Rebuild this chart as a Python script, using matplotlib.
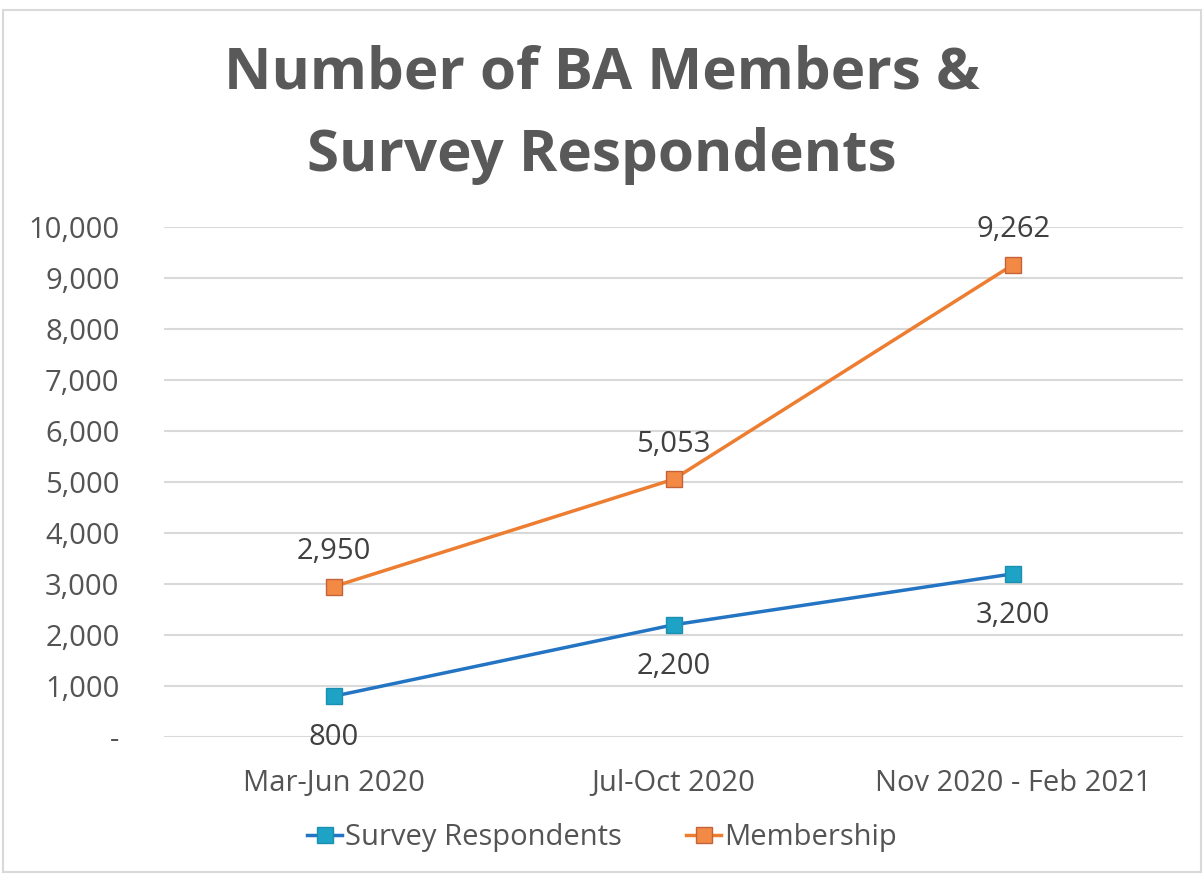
import matplotlib
matplotlib.use("Agg")
from matplotlib import pyplot as plt
from matplotlib.patches import Rectangle
from matplotlib.ticker import FuncFormatter

periods = ["Mar-Jun 2020", "Jul-Oct 2020", "Nov 2020 - Feb 2021"]
survey = [800, 2200, 3200]
membership = [2950, 5053, 9262]
yticks = list(range(0, 10001, 1000))

plt.rcParams['font.family'] = ['Open Sans', 'DejaVu Sans']

fig = plt.figure(figsize=(12.04, 8.75), dpi=100)
ax = fig.add_axes([164 / 1204, 1 - 737 / 875, (1183 - 164) / 1204, (737 - 227) / 875])

x = list(range(len(periods)))
ax.plot(x, survey, color='#2474c4', lw=2.5, marker='s', ms=11.5,
        mfc='#1ea2c6', mec='#1a8fb0', mew=1, label='Survey Respondents', zorder=3)
ax.plot(x, membership, color='#ed7d31', lw=2.5, marker='s', ms=11.5,
        mfc='#f28a46', mec='#c4623a', mew=1, label='Membership', zorder=3)

# data labels
for xi, v in zip(x, survey):
    ax.annotate(f"{v:,}", (xi, v), xytext=(0, -30), textcoords='offset points',
                ha='center', va='center', fontsize=21, color='#404040')
for xi, v in zip(x, membership):
    ax.annotate(f"{v:,}", (xi, v), xytext=(0, 25), textcoords='offset points',
                ha='center', va='center', fontsize=21, color='#404040')

ax.set_xlim(-0.5, 2.5)
ax.set_ylim(0, 10000)
ax.set_yticks(yticks)
ax.yaxis.set_major_formatter(FuncFormatter(lambda v, p: '-' if v == 0 else f"{int(v):,}"))
ax.set_xticks(x)
ax.set_xticklabels(periods)
ax.tick_params(axis='both', length=0, labelsize=21, labelcolor='#545454')
ax.tick_params(axis='y', pad=32)
ax.tick_params(axis='x', pad=23)
ax.grid(axis='y', color='#d9d9d9', lw=1.5)
ax.set_axisbelow(True)
for s in ax.spines.values():
    s.set_visible(False)

fig.text(0.5, 1 - 115 / 875, "Number of BA Members &\nSurvey Respondents",
         ha='center', va='center', fontsize=42, fontweight='bold',
         color='#595959', linespacing=1.55)

ax.legend(loc='center', bbox_to_anchor=(0.5, 1 - 838 / 875), bbox_transform=fig.transFigure,
          ncol=2, frameon=False, fontsize=21, labelcolor='#545454', handlelength=1.2,
          handletextpad=0.1, columnspacing=2.2)

fig.patches.append(Rectangle((3 / 1204, 3 / 875), 1 - 6 / 1204, 1 - 13 / 875,
                             transform=fig.transFigure, fill=False,
                             edgecolor='#d9d9d9', lw=1.5))

fig.savefig("out.png", dpi=100)
